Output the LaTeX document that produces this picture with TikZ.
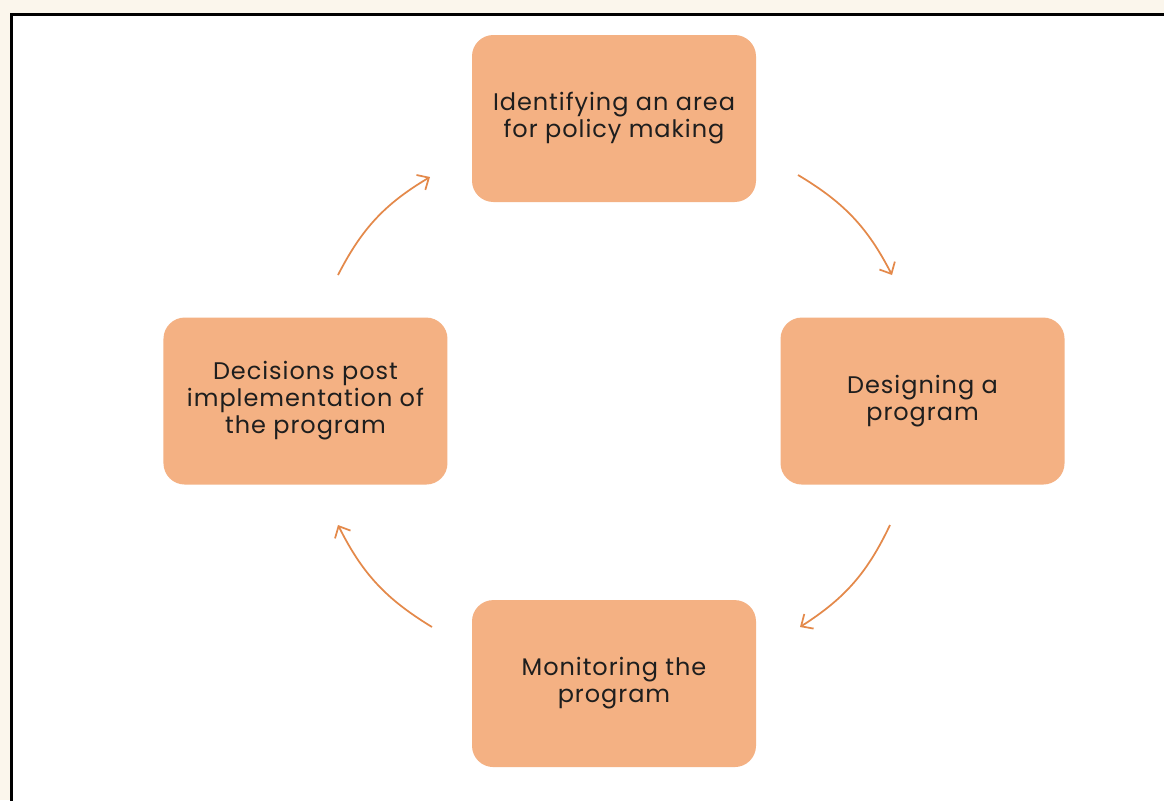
\documentclass[tikz,border=0pt]{standalone}
\usepackage{fontspec}
\setmainfont{Poppins}[LetterSpace=4]
\usepackage{xcolor}
\usepackage{tikz}
\usetikzlibrary{positioning, arrows.meta}
\definecolor{boxfill}{HTML}{F4B183}
\definecolor{arrowc}{HTML}{E4894A}
\definecolor{paper}{HTML}{FBF6EC}
\definecolor{ink}{HTML}{1E1E1E}

\begin{document}
\begin{tikzpicture}[
  x=0.75pt, y=-0.75pt,
  every node/.style={font=\fontsize{18pt}{20.25pt}\selectfont, text=ink},
  stagebox/.style={
    rectangle, rounded corners=16pt, draw=none,
    fill=boxfill, minimum width=213pt, minimum height=125.25pt,
    align=center, inner sep=0pt,
  },
  cycle/.style={-{Straight Barb[length=7pt,width=13pt]}, line width=1.3pt, draw=arrowc},
  node distance=86.25pt and 18pt,
]
% page and frame
\useasboundingbox (0,0) rectangle (1164,800);
\fill[paper] (0,0) rectangle (1164,800);
\filldraw[fill=white, draw=black, line width=2.3pt] (11.5,14.5) rectangle (1180,820);

% the four stages
\node[stagebox] (ident) at (614,118.5) {Identifying an area\\for policy making};
\node[stagebox, below right=of ident] (design) {Designing a\\program};
\node[stagebox, below left=of design] (monitor) {Monitoring the\\program};
\node[stagebox, above left=of monitor] (decide) {Decisions post\\implementation of\\the program};

% ends of the arrows
\coordinate (a1) at (798,175);  \coordinate (b1) at (892,275);
\coordinate (a2) at (890,525);  \coordinate (b2) at (800,627);
\coordinate (a3) at (432,627);  \coordinate (b3) at (338,525);
\coordinate (a4) at (338,275);  \coordinate (b4) at (430,177);

\draw[cycle] (a1) to[bend left=16] (b1);
\draw[cycle] (a2) to[bend left=16] (b2);
\draw[cycle] (a3) to[bend left=16] (b3);
\draw[cycle] (a4) to[bend left=16] (b4);
\end{tikzpicture}
\end{document}
